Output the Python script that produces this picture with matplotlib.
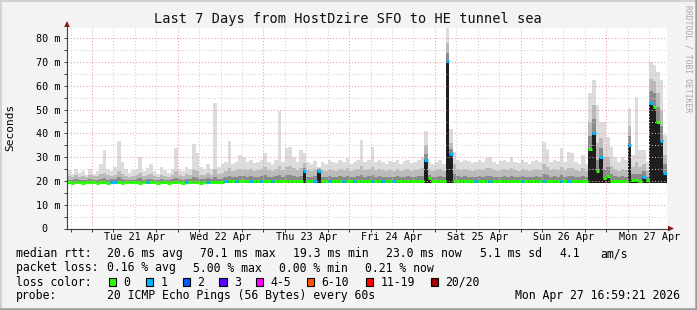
import numpy as np
import pandas as pd
import matplotlib
matplotlib.use("Agg")
import matplotlib.pyplot as plt
import matplotlib.dates as mdates
from matplotlib.patches import Rectangle, Polygon
from matplotlib.lines import Line2D

W, H = 697, 310
plt.rcParams["font.family"] = "DejaVu Sans Mono"

title = "Last 7 Days from HostDzire SFO to HE tunnel sea"
start = "2026-04-20 16:59:21"
end = "2026-04-27 16:59:21"

# one column per hour, values in ms
median_ms = [
    19.4, 19.3, 19.4, 19.4, 19.3, 19.4, 19.5, 19.4, 19.3, 19.4,
    19.4, 19.3, 19.5, 19.4, 19.4, 19.3, 19.4, 19.4, 19.5, 19.4,
    19.3, 19.4, 19.4, 19.5, 19.4, 19.3, 19.4, 19.4, 19.3, 19.4,
    19.4, 19.4, 19.3, 19.4, 19.5, 19.4, 19.4, 19.3, 19.4, 19.4,
    19.5, 19.4, 19.6, 19.7, 19.8, 19.9, 20.1, 19.9, 20.0, 19.8,
    19.9, 20.0, 19.8, 19.9, 20.1, 19.9, 19.8, 20.0, 19.9, 20.0,
    19.9, 20.0, 20.1, 19.9, 20.0, 19.9, 24.2, 20.0, 19.8, 19.9,
    24.2, 19.9, 20.0, 19.8, 19.9, 20.0, 19.9, 19.8, 20.0, 19.9,
    19.8, 19.9, 20.0, 19.9, 19.8, 19.9, 20.0, 19.8, 19.9, 19.9,
    20.0, 19.9, 19.8, 19.9, 20.0, 19.9, 19.8, 19.9, 20.0, 19.9,
    29.0, 21.4, 19.9, 20.0, 19.9, 19.8, 70.5, 31.5, 20.0, 19.9,
    19.8, 19.9, 20.0, 19.9, 19.8, 19.9, 19.9, 20.0, 19.8, 19.9,
    20.0, 19.9, 19.8, 19.9, 19.9, 20.0, 19.8, 19.9, 19.9, 20.0,
    19.9, 19.8, 19.9, 20.0, 19.9, 19.8, 19.9, 19.9, 20.0, 19.9,
    19.8, 19.9, 19.9, 20.0, 19.8, 19.9, 33.5, 40.0, 24.3, 30.0,
    21.4, 22.2, 20.0, 19.8, 19.8, 20.0, 20.0, 35.0, 20.5, 20.3,
    20.0, 21.8, 20.3, 52.7, 51.3, 45.0, 37.0, 23.2,
]
max_ms = [
    24.5, 23.0, 25.0, 23.5, 24.0, 22.5, 25.0, 23.0, 24.0, 27.0,
    33.0, 25.0, 24.0, 26.0, 37.0, 28.0, 25.0, 23.5, 24.5, 25.0,
    30.0, 24.0, 25.5, 27.0, 24.0, 23.0, 26.0, 24.5, 23.5, 25.0,
    33.7, 25.0, 24.0, 26.0, 25.0, 35.6, 31.9, 26.0, 25.0, 27.0,
    25.0, 53.0, 26.0, 27.0, 28.0, 37.0, 27.0, 28.0, 31.0, 30.0,
    28.0, 29.0, 27.5, 28.0, 29.0, 31.8, 28.0, 27.0, 29.0, 49.5,
    28.0, 33.7, 34.4, 30.0, 28.0, 33.0, 31.6, 28.0, 27.0, 28.5,
    26.0, 28.0, 27.0, 29.0, 28.0, 27.5, 29.0, 28.0, 29.5, 27.0,
    28.0, 29.0, 37.3, 28.0, 29.0, 34.4, 28.0, 28.8, 28.0, 27.0,
    28.5, 28.0, 29.0, 27.0, 28.5, 28.8, 27.5, 28.0, 29.0, 30.0,
    41.0, 28.0, 27.0, 28.0, 29.0, 27.0, 84.5, 42.0, 32.0, 29.0,
    28.0, 29.0, 28.5, 27.5, 28.0, 29.0, 28.0, 29.5, 30.0, 28.0,
    27.0, 28.5, 29.0, 28.0, 30.0, 28.0, 27.5, 29.0, 28.0, 27.0,
    28.5, 29.0, 28.0, 36.2, 33.3, 28.0, 29.0, 28.5, 33.7, 28.0,
    32.3, 31.6, 28.0, 27.0, 31.0, 27.0, 57.0, 62.6, 52.0, 45.0,
    45.0, 38.4, 34.4, 30.0, 28.0, 30.0, 29.0, 50.6, 31.0, 55.5,
    33.0, 33.0, 28.0, 69.9, 69.0, 66.0, 62.6, 39.4,
]
upper_ms = [
    22.0, 21.5, 22.5, 21.8, 22.0, 21.5, 22.5, 22.0, 22.0, 23.0,
    23.5, 22.5, 22.0, 22.5, 24.0, 23.0, 22.0, 21.5, 22.0, 22.5,
    23.5, 22.0, 22.5, 23.0, 22.0, 21.5, 22.5, 22.0, 21.8, 22.5,
    24.0, 22.5, 22.0, 23.0, 22.5, 24.5, 24.0, 22.5, 22.5, 23.5,
    22.5, 25.0, 23.0, 23.5, 24.0, 25.5, 24.0, 24.5, 25.0, 25.0,
    24.5, 25.0, 24.0, 24.5, 25.0, 26.0, 24.5, 24.0, 25.0, 26.5,
    24.5, 26.0, 26.5, 25.5, 24.5, 25.5, 27.5, 24.5, 24.0, 25.0,
    25.5, 24.5, 24.0, 25.0, 24.5, 24.0, 25.0, 24.5, 25.5, 24.0,
    24.5, 25.0, 26.5, 24.5, 25.0, 26.0, 24.5, 25.0, 24.5, 24.0,
    24.5, 24.0, 25.0, 24.0, 24.5, 25.0, 24.0, 24.5, 25.0, 25.5,
    35.0, 25.0, 24.0, 24.5, 25.0, 24.0, 78.0, 36.0, 27.0, 25.0,
    24.5, 25.0, 24.5, 24.0, 24.5, 25.0, 24.5, 25.5, 25.5, 24.5,
    24.0, 24.5, 25.0, 24.5, 25.5, 24.5, 24.0, 25.0, 24.5, 24.0,
    24.5, 25.0, 24.5, 27.0, 26.0, 24.5, 25.0, 24.5, 26.0, 24.5,
    25.5, 25.5, 24.5, 24.0, 25.5, 24.0, 45.0, 52.0, 36.0, 38.0,
    30.0, 30.0, 26.5, 25.0, 24.0, 25.0, 24.5, 43.0, 26.0, 28.0,
    26.0, 27.0, 24.0, 63.0, 62.0, 57.0, 50.0, 31.0,
]
inner_ms = [
    20.6, 20.4, 20.8, 20.5, 20.6, 20.4, 20.9, 20.5, 20.6, 21.0,
    21.2, 20.6, 20.7, 20.8, 21.5, 21.0, 20.6, 20.4, 20.6, 20.8,
    21.2, 20.6, 20.8, 21.0, 20.6, 20.4, 20.9, 20.6, 20.5, 20.8,
    21.3, 20.8, 20.6, 21.0, 20.8, 21.5, 21.3, 20.8, 20.8, 21.2,
    20.8, 21.6, 21.0, 21.3, 21.6, 22.0, 21.6, 21.8, 22.0, 22.0,
    21.8, 22.0, 21.6, 21.8, 22.0, 22.4, 21.8, 21.6, 22.0, 22.6,
    21.8, 22.4, 22.6, 22.2, 21.8, 22.2, 25.5, 21.8, 21.6, 22.0,
    25.0, 21.8, 21.6, 22.0, 21.8, 21.6, 22.0, 21.8, 22.2, 21.6,
    21.8, 22.0, 22.6, 21.8, 22.0, 22.4, 21.8, 22.0, 21.8, 21.6,
    21.8, 21.6, 22.0, 21.6, 21.8, 22.0, 21.6, 21.8, 22.0, 22.2,
    31.5, 22.5, 21.6, 21.8, 22.0, 21.6, 74.0, 33.5, 23.0, 22.0,
    21.8, 22.0, 21.8, 21.6, 21.8, 22.0, 21.8, 22.2, 22.2, 21.8,
    21.6, 21.8, 22.0, 21.8, 22.2, 21.8, 21.6, 22.0, 21.8, 21.6,
    21.8, 22.0, 21.8, 23.0, 22.6, 21.8, 22.0, 21.8, 22.6, 21.8,
    22.2, 22.2, 21.8, 21.6, 22.2, 21.6, 39.0, 46.0, 29.0, 34.0,
    25.0, 26.0, 22.8, 22.0, 21.6, 22.0, 21.8, 39.0, 23.0, 23.0,
    23.0, 24.0, 21.6, 58.0, 57.0, 51.0, 43.0, 27.0,
]
# hours (column index) where 1 of 20 pings was lost
one_loss_cols = [12, 13, 22, 33, 39, 44, 47, 51, 54, 57, 66, 69, 70, 73, 77, 80,
                 85, 88, 91, 100, 106, 107, 114, 118, 127, 133, 138, 140, 147,
                 149, 157, 161, 163, 166, 167]
floor_ms = 19.2

day_labels = ["Tue 21 Apr", "Wed 22 Apr", "Thu 23 Apr", "Fri 24 Apr",
              "Sat 25 Apr", "Sun 26 Apr", "Mon 27 Apr"]
y_ticks = [0, 10, 20, 30, 40, 50, 60, 70, 80]
y_labels = ["0  ", "10 m", "20 m", "30 m", "40 m", "50 m", "60 m", "70 m", "80 m"]

loss_names = ["0", "1", "2", "3", "4-5", "6-10", "11-19", "20/20"]
loss_colors = ["#26ff00", "#00b8ff", "#0059ff", "#5e00ff",
               "#ff00ff", "#ff5500", "#ff0000", "#a10000"]

rtt_stats = ["20.6 ms avg", "70.1 ms max", "19.3 ms min", "23.0 ms now",
             "5.1 ms sd", "4.1", "am/s"]
loss_stats = ["0.16 % avg", "5.00 % max", "0.00 % min", "0.21 % now"]
probe = "20 ICMP Echo Pings (56 Bytes) every 60s"
stamp = "Mon Apr 27 16:59:21 2026"


def fx(px):
    return px / W


def fy(py):
    return 1 - py / H


fig = plt.figure(figsize=(W / 100, H / 100), dpi=100, facecolor="#f3f3f3")
ax = fig.add_axes([fx(67), fy(228.5), 600 / W, (228.5 - 27.5) / H])
ax.set_facecolor("white")

edges = mdates.date2num(pd.date_range(start, periods=len(median_ms) + 1, freq="h"))
med = np.array(median_ms)

# smoke, outer band first
ax.stairs(max_ms, edges, baseline=floor_ms, fill=True, color="#dcdcdc", lw=0, zorder=1)
ax.stairs(upper_ms, edges, baseline=floor_ms, fill=True, color="#bababa", lw=0, zorder=1)
ax.stairs(inner_ms, edges, baseline=floor_ms, fill=True, color="#8a8a8a", lw=0, zorder=1)
ax.stairs(med, edges, baseline=floor_ms, fill=True, color="#1e1e1e", lw=0, zorder=1)

# grid
for d in pd.date_range("2026-04-20 18:00", end, freq="6h"):
    red = d.hour == 0
    ax.axvline(mdates.date2num(d), color="#eaa0a0" if red else "#cfcfcf",
               ls=(0, (1, 2)), lw=0.75, zorder=2)
for v in range(5, 85, 5):
    ax.axhline(v, color="#eaa0a0" if v % 10 == 0 else "#cfcfcf",
               ls=(0, (1, 2)), lw=0.75, zorder=2)

# median line coloured by loss
loss = np.zeros(len(median_ms), dtype=int)
loss[one_loss_cols] = 1
ax.hlines(med, edges[:-1], edges[1:], colors=[loss_colors[l] for l in loss],
          lw=2.2, zorder=3, capstyle="butt")

ax.set_xlim(mdates.date2num(pd.Timestamp(start)), mdates.date2num(pd.Timestamp(end)))
ax.set_ylim(0, 84.6)
for s in ax.spines.values():
    s.set_visible(False)

noons = mdates.date2num(pd.date_range("2026-04-21 12:00", periods=7, freq="D"))
ax.set_xticks(noons)
ax.set_xticklabels(day_labels)
ax.set_xticks(mdates.date2num(pd.date_range("2026-04-20 18:00", end, freq="6h")), minor=True)
ax.tick_params(axis="x", which="major", length=0, pad=2.5, labelsize=7.3)
ax.tick_params(axis="x", which="minor", length=2, width=0.7, color="#404040")
ax.set_yticks(y_ticks)
ax.set_yticklabels(y_labels)
ax.set_yticks(range(5, 85, 10), minor=True)
ax.tick_params(axis="y", which="both", length=2, width=0.7, color="#404040",
               pad=3, labelsize=7.3)

# axes with arrows
fig.add_artist(Line2D([fx(67), fx(67)], [fy(228.5), fy(24)], color="#404040", lw=0.8))
fig.add_artist(Line2D([fx(67), fx(670)], [fy(228.5), fy(228.5)], color="#404040", lw=0.8))
fig.add_artist(Polygon([(fx(64.2), fy(27)), (fx(69.8), fy(27)), (fx(67), fy(21))],
                       closed=True, transform=fig.transFigure, color="#8b1010", lw=0))
fig.add_artist(Polygon([(fx(668), fy(225.7)), (fx(668), fy(231.3)), (fx(674), fy(228.5))],
                       closed=True, transform=fig.transFigure, color="#8b1010", lw=0))

# frame
fig.add_artist(Line2D([0, 1], [fy(0.8), fy(0.8)], color="#d2d2d2", lw=1.5))
fig.add_artist(Line2D([fx(0.8), fx(0.8)], [0, 1], color="#d2d2d2", lw=1.5))
fig.add_artist(Line2D([0, 1], [fy(308.8), fy(308.8)], color="#9c9c9c", lw=1.8))
fig.add_artist(Line2D([fx(695.8), fx(695.8)], [0, 1], color="#9c9c9c", lw=1.8))

# texts
fig.text(fx(347.5), fy(19), title, ha="center", va="center", fontsize=9.8, color="#111111")
fig.text(fx(10.5), fy(127), "Seconds", rotation=90, ha="center", va="center", fontsize=8)
fig.text(fx(687.7), fy(5), "RRDTOOL / TOBI OETIKER", rotation=270, ha="center", va="top",
         fontsize=5.8, color="#a8a8a8")

fs = 8.3
rows = [257.3, 271.5, 285.5, 299.5]
fig.text(fx(16), fy(rows[0]), "median rtt:", fontsize=fs, va="baseline")
for x, s in zip([107.3, 200, 293.3, 386, 480, 559, 600], rtt_stats):
    fig.text(fx(x), fy(rows[0]), s, fontsize=fs, va="baseline")
fig.text(fx(16), fy(rows[1]), "packet loss:", fontsize=fs, va="baseline")
for x, s in zip([107.3, 193.2, 279.3, 365], loss_stats):
    fig.text(fx(x), fy(rows[1]), s, fontsize=fs, va="baseline")
fig.text(fx(16), fy(rows[2]), "loss color:", fontsize=fs, va="baseline")
box_x = [108.7, 145.7, 182.7, 219.3, 256, 306.7, 365.7, 431]
for bx, name, c in zip(box_x, loss_names, loss_colors):
    fig.add_artist(Rectangle((fx(bx), fy(286)), 7.3 / W, 7.7 / H, transform=fig.transFigure,
                             facecolor=c, edgecolor="black", lw=0.8))
    fig.text(fx(bx + 14.5), fy(rows[2]), name, fontsize=fs, va="baseline")
fig.text(fx(16), fy(rows[3]), "probe:", fontsize=fs, va="baseline")
fig.text(fx(107.3), fy(rows[3]), probe, fontsize=fs, va="baseline")
fig.text(fx(680), fy(rows[3]), stamp, fontsize=fs, va="baseline", ha="right")

fig.savefig("out.png", dpi=100, facecolor=fig.get_facecolor())
